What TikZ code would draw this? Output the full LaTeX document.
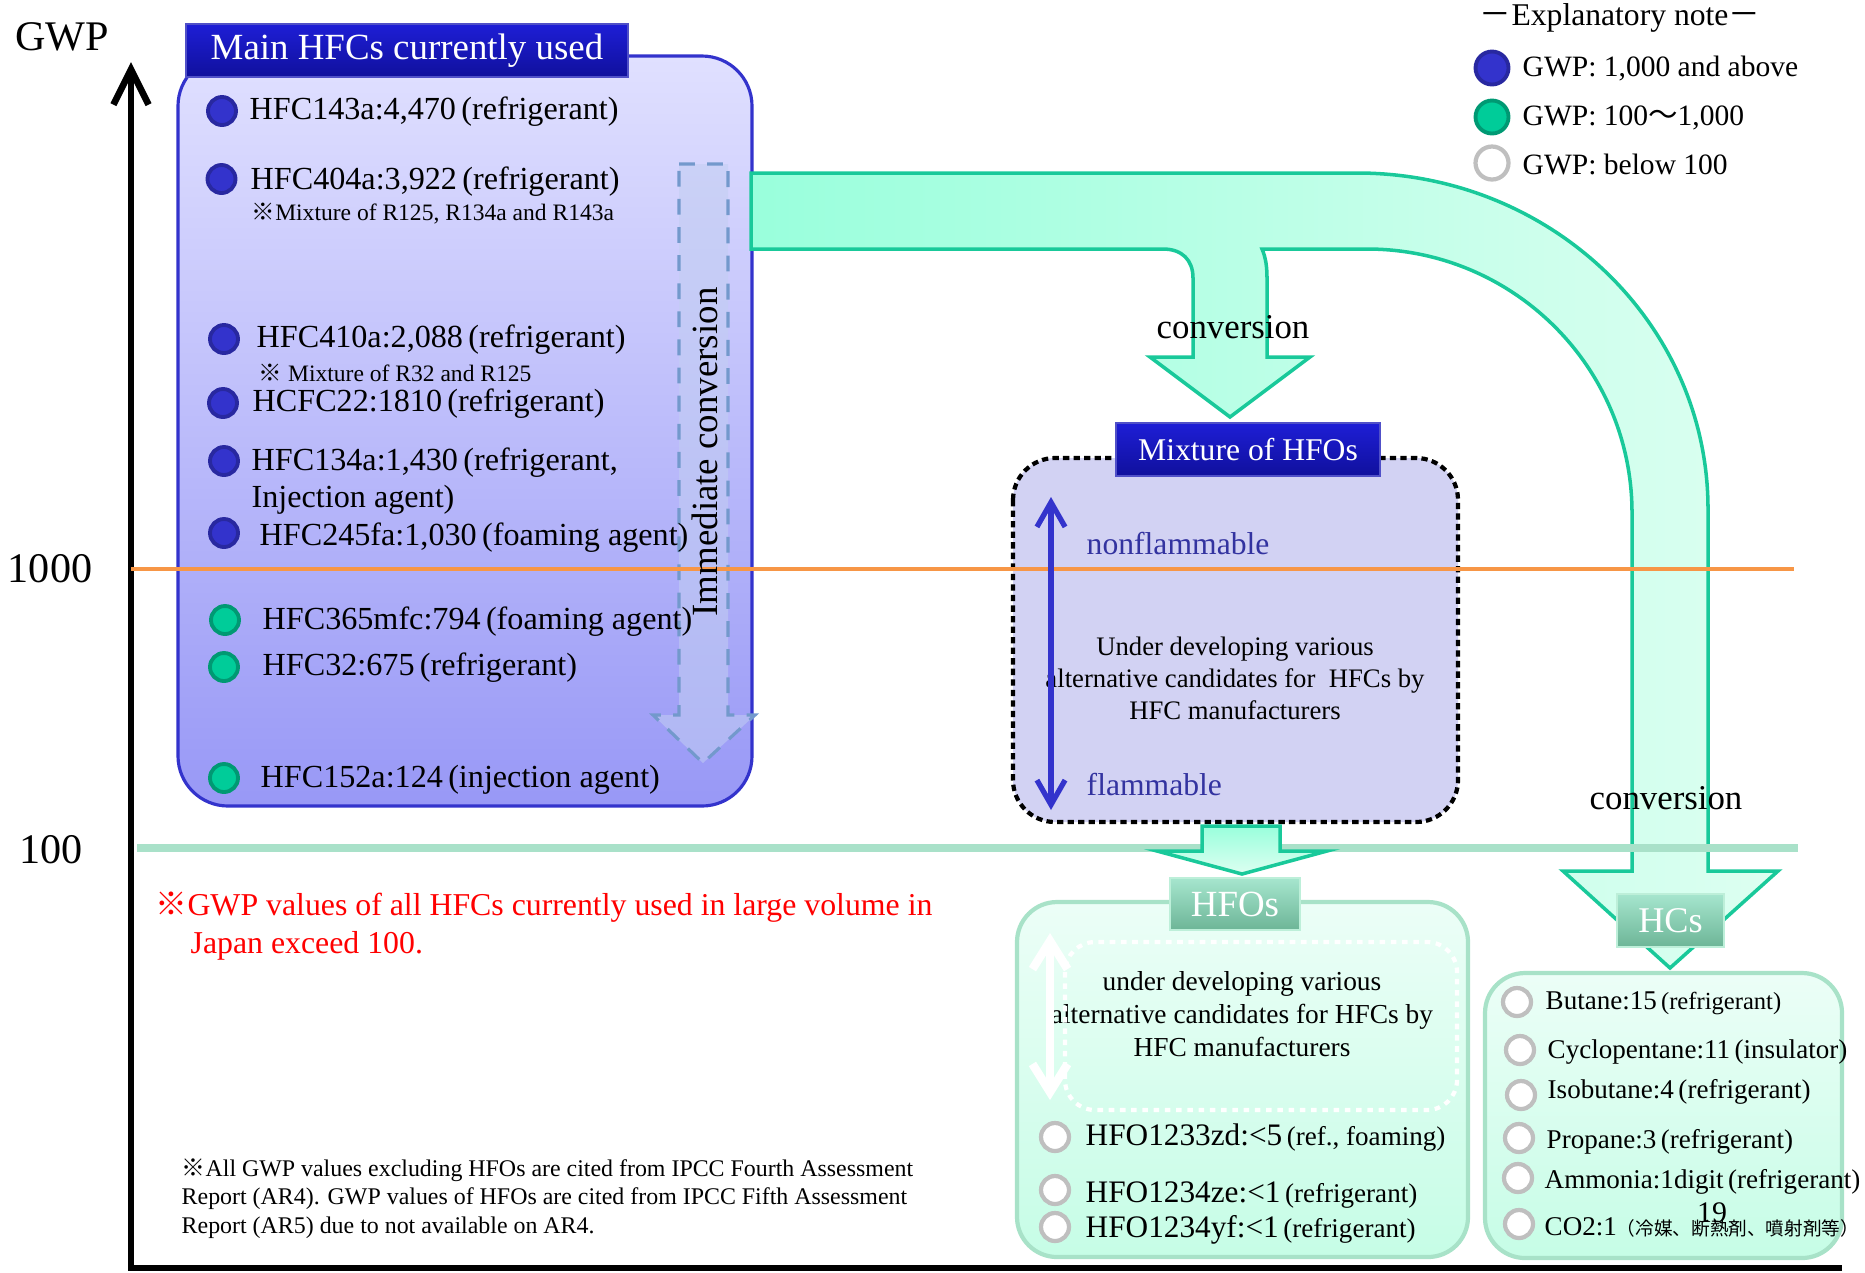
\documentclass[tikz,border=0pt]{standalone}
\usepackage{fontspec}
\setmainfont{Liberation Serif}
\newfontfamily\jpfont{Noto Sans CJK JP}
\usetikzlibrary{arrows.meta}

\definecolor{hfctop}{HTML}{E0E0FF}
\definecolor{hfcbottom}{HTML}{9898F6}
\definecolor{hfcline}{HTML}{3333CC}
\definecolor{titletop}{HTML}{1E1ED6}
\definecolor{titlebottom}{HTML}{10109C}
\definecolor{titleline}{HTML}{5050C8}
\definecolor{ballblue}{HTML}{3333CC}
\definecolor{ballblueline}{HTML}{2828A0}
\definecolor{ballgreen}{HTML}{00CC99}
\definecolor{ballgreenline}{HTML}{009973}
\definecolor{ballgrey}{HTML}{BFBFBF}
\definecolor{arrowline}{HTML}{19C99A}
\definecolor{arrowleft}{HTML}{99FFDC}
\definecolor{arrowright}{HTML}{DDFFF1}
\definecolor{dashblue}{HTML}{7399CC}
\definecolor{dashfill}{HTML}{C2CEF2}
\definecolor{mixfill}{HTML}{D2D2F3}
\definecolor{flamblue}{HTML}{3333CC}
\definecolor{flamtext}{HTML}{3333A0}
\definecolor{kline}{HTML}{F79646}
\definecolor{hline}{HTML}{A9E1C9}
\definecolor{hcline}{HTML}{A8E2C8}
\definecolor{hctop}{HTML}{ECFEF7}
\definecolor{hcbottom}{HTML}{C6FDE6}
\definecolor{gtitletop}{HTML}{A6E6CE}
\definecolor{gtitlebottom}{HTML}{6DB597}
\definecolor{gtitleline}{HTML}{BDEFD9}

\begin{document}
\begin{tikzpicture}[
    item/.style={anchor=west, inner sep=0pt, font=\fontsize{9.15}{11}\selectfont},
    smallnote/.style={anchor=west, inner sep=0pt, font=\fontsize{6.7}{8}\selectfont},
    hcitem/.style={anchor=west, inner sep=0pt, font=\fontsize{7.7}{9}\selectfont},
    blueball/.style={circle, inner sep=0pt, minimum size=0.28cm, line width=1.1pt, draw=ballblueline, fill=ballblue},
    greenball/.style={circle, inner sep=0pt, minimum size=0.28cm, line width=1.1pt, draw=ballgreenline, fill=ballgreen},
    greyball/.style={circle, inner sep=0pt, minimum size=0.28cm, line width=1.2pt, draw=ballgrey, fill=white},
    bluetitle/.style={draw=titleline, line width=0.6pt, top color=titletop, bottom color=titlebottom, text=white, inner sep=0pt},
    greentitle/.style={draw=gtitleline, line width=0.8pt, top color=gtitletop, bottom color=gtitlebottom, text=white, inner sep=0pt},
    convarrow/.style={draw=arrowline, line width=1pt, left color=arrowleft, right color=arrowright},
    hcbox/.style={draw=hcline, line width=1.2pt, rounded corners=0.4cm, top color=hctop, bottom color=hcbottom},
    convlabel/.style={inner sep=0pt, font=\fontsize{9.9}{12}\selectfont},
    flamlabel/.style={anchor=west, inner sep=0pt, text=flamtext, font=\fontsize{9}{11}\selectfont}
  ]
    \useasboundingbox (0,0) rectangle (18.65,-12.72);

    % axis
    \coordinate (origin) at (1.31,-12.68);
    \coordinate (ytip) at (1.31,-0.62);
    \coordinate (xend) at (18.42,-12.68);
    \draw[line width=1.9pt, -{Straight Barb[length=10pt,width=10pt]}] (xend) -- (origin) -- (ytip);
    \node[inner sep=0pt, font=\fontsize{12}{14}\selectfont] (gwp) at (0.62,-0.37) {GWP};
    \node[inner sep=0pt, font=\fontsize{12}{14}\selectfont] (k1000) at (0.50,-5.69) {1000};
    \node[inner sep=0pt, font=\fontsize{12}{14}\selectfont] (k100) at (0.51,-8.50) {100};

    % main HFCs box
    \draw[draw=hfcline, line width=0.9pt, rounded corners=0.5cm, top color=hfctop, bottom color=hfcbottom] (1.78,-0.56) rectangle (7.52,-8.06);

    % big conversion arrow with branch
    \draw[convarrow] (7.51,-1.73) -- (13.57,-1.73)
        arc[start angle=90, end angle=0, x radius=3.51cm, y radius=3.36cm]
        -- (17.08,-8.71) -- (17.78,-8.71) -- (16.70,-9.68) -- (15.63,-8.71) -- (16.32,-8.71) -- (16.32,-5.13)
        arc[start angle=0, end angle=90, x radius=2.65cm, y radius=2.64cm]
        -- (12.62,-2.49) .. controls (12.66,-2.58) and (12.67,-2.68) .. (12.67,-2.78)
        -- (12.67,-3.57) -- (13.10,-3.57) -- (12.30,-4.17) -- (11.50,-3.57) -- (11.93,-3.57)
        -- (11.93,-2.78) .. controls (11.93,-2.60) and (11.82,-2.49) .. (11.63,-2.49)
        -- (7.51,-2.49) -- cycle;

    % immediate conversion
    \draw[draw=dashblue, line width=0.9pt, dash pattern=on 4.5pt off 3.5pt, fill=dashfill, fill opacity=0.55]
        (6.79,-1.64) -- (7.28,-1.64) -- (7.28,-7.15) -- (7.55,-7.15) -- (7.03,-7.63) -- (6.53,-7.15) -- (6.79,-7.15) -- cycle;

    % mixture of HFOs
    \draw[fill=mixfill, line width=1.2pt, dash pattern=on 1.8pt off 1.2pt, rounded corners=0.42cm] (10.13,-4.58) rectangle (14.58,-8.22);

    % GWP levels
    \draw[kline, line width=1.4pt] (1.31,-5.69) -- (17.94,-5.69);
    \draw[hline, line width=2.2pt] (1.37,-8.48) -- (17.98,-8.48);

    % arrow to HFOs
    \draw[draw=arrowline, line width=1pt, top color=arrowleft, bottom color=arrowright]
        (12.02,-8.26) -- (12.80,-8.26) -- (12.80,-8.51) -- (13.27,-8.51) -- (12.42,-8.74) -- (11.57,-8.51) -- (12.02,-8.51) -- cycle;

    % HFOs and HCs boxes
    \draw[hcbox] (10.17,-9.02) rectangle (14.68,-12.57);
    \draw[hcbox] (14.85,-9.73) rectangle (18.42,-12.58);

    % titles
    \node[bluetitle, minimum width=4.42cm, minimum height=0.53cm, font=\fontsize{10.5}{12}\selectfont] (maintitle) at (4.07,-0.505) {Main HFCs currently used};
    \node[bluetitle, minimum width=2.64cm, minimum height=0.53cm, font=\fontsize{9}{11}\selectfont] (mixtitle) at (12.48,-4.495) {Mixture of HFOs};
    \node[greentitle, minimum width=1.30cm, minimum height=0.52cm, font=\fontsize{10.5}{12}\selectfont] (hfotitle) at (12.35,-9.04) {HFOs};
    \node[greentitle, minimum width=1.07cm, minimum height=0.53cm, font=\fontsize{10.3}{12}\selectfont] (hctitle) at (16.705,-9.205) {HCs};

    % main HFCs
    \node[blueball] (b143a) at (2.22,-1.11) {};
    \node[item] (t143a) at (2.49,-1.12) {HFC143a:4,470\,(refrigerant)};
    \node[blueball] (b404a) at (2.215,-1.79) {};
    \node[item] (t404a) at (2.50,-1.82) {HFC404a:3,922\,(refrigerant)};
    \node[smallnote] (n404a) at (2.51,-2.14) {{\jpfont ※}Mixture of R125, R134a and R143a};
    \node[blueball] (b410a) at (2.24,-3.39) {};
    \node[item] (t410a) at (2.56,-3.40) {HFC410a:2,088\,(refrigerant)};
    \node[smallnote] (n410a) at (2.58,-3.73) {{\jpfont ※} Mixture of R32 and R125};
    \node[blueball] (b22) at (2.23,-4.03) {};
    \node[item] (t22) at (2.52,-4.04) {HCFC22:1810\,(refrigerant)};
    \node[blueball] (b134a) at (2.24,-4.61) {};
    \node[item] (t134a) at (2.51,-4.63) {HFC134a:1,430\,(refrigerant,};
    \node[item] (t134b) at (2.51,-5.00) {Injection agent)};
    \node[blueball] (b245fa) at (2.24,-5.33) {};
    \node[item] (t245fa) at (2.59,-5.38) {HFC245fa:1,030\,(foaming agent)};
    \node[greenball] (b365) at (2.25,-6.20) {};
    \node[item] (t365) at (2.62,-6.22) {HFC365mfc:794\,(foaming agent)};
    \node[greenball] (b32) at (2.24,-6.67) {};
    \node[item] (t32) at (2.62,-6.68) {HFC32:675\,(refrigerant)};
    \node[greenball] (b152a) at (2.24,-7.78) {};
    \node[item] (t152a) at (2.60,-7.80) {HFC152a:124\,(injection agent)};

    \node[rotate=90, inner sep=0pt, font=\fontsize{10.5}{12}\selectfont] (immtext) at (7.05,-4.52) {Immediate conversion};
    \node[convlabel] (conv1) at (12.33,-3.27) {conversion};
    \node[convlabel] (conv2) at (16.66,-7.98) {conversion};

    % mixture content
    \node[flamlabel] (nonflam) at (10.86,-5.43) {nonflammable};
    \node[flamlabel] (flam) at (10.86,-7.84) {flammable};
    \node[align=center, inner sep=0pt, font=\fontsize{7.6}{9.1}\selectfont] (mixtext) at (12.35,-6.78) {Under developing various\\alternative candidates for~ HFCs by\\HFC manufacturers};
    \coordinate (flamtop) at (10.51,-4.97);
    \coordinate (flambot) at (10.51,-8.10);
    \draw[flamblue, line width=1.5pt, {Straight Barb[length=7pt,width=8pt]}-{Straight Barb[length=7pt,width=8pt]}] (flamtop) -- (flambot);

    % HFOs content
    \node[align=center, inner sep=0pt, font=\fontsize{7.8}{9.5}\selectfont] (hfotext) at (12.42,-10.14) {under developing various\\alternative candidates for HFCs by\\HFC manufacturers};
    \draw[white, line width=1.2pt, dash pattern=on 1.6pt off 1.6pt, rounded corners=0.3cm] (10.65,-9.42) rectangle (14.57,-11.10);
    \coordinate (hfotop) at (10.50,-9.33);
    \coordinate (hfobot) at (10.50,-11.00);
    \draw[white, line width=2.4pt, {Straight Barb[length=8pt,width=10pt]}-{Straight Barb[length=8pt,width=10pt]}] (hfotop) -- (hfobot);
    \node[greyball] (b1233zd) at (10.55,-11.37) {};
    \node[anchor=west, inner sep=0pt, font=\fontsize{8.9}{10}\selectfont] (t1233zd) at (10.85,-11.38) {HFO1233zd:<5{\fontsize{7.7}{9}\selectfont\,(ref., foaming)}};
    \node[greyball] (b1234ze) at (10.55,-11.90) {};
    \node[anchor=west, inner sep=0pt, font=\fontsize{8.9}{10}\selectfont] (t1234ze) at (10.85,-11.95) {HFO1234ze:<1{\fontsize{7.7}{9}\selectfont\,(refrigerant)}};
    \node[greyball] (b1234yf) at (10.55,-12.27) {};
    \node[anchor=west, inner sep=0pt, font=\fontsize{8.9}{10}\selectfont] (t1234yf) at (10.85,-12.30) {HFO1234yf:<1{\fontsize{7.7}{9}\selectfont\,(refrigerant)}};

    % HCs content
    \node[greyball] (bbutane) at (15.17,-10.02) {};
    \node[hcitem] (tbutane) at (15.45,-10.03) {Butane:15{\fontsize{7}{8}\selectfont\,(refrigerant)}};
    \node[greyball] (bcyclo) at (15.20,-10.50) {};
    \node[hcitem] (tcyclo) at (15.47,-10.52) {Cyclopentane:11\,(insulator)};
    \node[greyball] (biso) at (15.21,-10.95) {};
    \node[hcitem] (tiso) at (15.47,-10.92) {Isobutane:4\,(refrigerant)};
    \node[greyball] (bpropane) at (15.19,-11.38) {};
    \node[hcitem] (tpropane) at (15.46,-11.42) {Propane:3\,(refrigerant)};
    \node[greyball] (bammonia) at (15.18,-11.78) {};
    \node[hcitem] (tammonia) at (15.44,-11.82) {Ammonia:1digit\,(refrigerant)};
    \node[greyball] (bco2) at (15.19,-12.24) {};
    \node[hcitem] (tco2) at (15.44,-12.27) {CO2:1{\jpfont\fontsize{5.3}{7}\selectfont （冷媒、断熱剤、噴射剤等）}};
    \node[inner sep=0pt, font=\fontsize{8.5}{10}\selectfont] (pagenum) at (17.12,-12.13) {19};

    % explanatory note
    \node[inner sep=0pt, font=\fontsize{9}{11}\selectfont] (legtitle) at (16.20,-0.18) {{\jpfont －}Explanatory note{\jpfont －}};
    \node[blueball, minimum size=0.33cm] (lblue) at (14.92,-0.68) {};
    \node[anchor=west, inner sep=0pt, font=\fontsize{8.4}{10}\selectfont] (tblue) at (15.22,-0.69) {GWP: 1,000 and above};
    \node[greenball, minimum size=0.33cm] (lgreen) at (14.92,-1.17) {};
    \node[anchor=west, inner sep=0pt, font=\fontsize{8.4}{10}\selectfont] (tgreen) at (15.22,-1.18) {GWP: 100{\jpfont ～}1,000};
    \node[greyball, minimum size=0.33cm] (lgrey) at (14.92,-1.63) {};
    \node[anchor=west, inner sep=0pt, font=\fontsize{8.4}{10}\selectfont] (tgrey) at (15.22,-1.64) {GWP: below 100};

    % notes
    \node[anchor=west, inner sep=0pt, text=red, font=\fontsize{9.05}{11}\selectfont] (rednote1) at (1.55,-9.07) {{\jpfont ※}GWP values of all HFCs currently used in large volume in};
    \node[anchor=west, inner sep=0pt, text=red, font=\fontsize{9.05}{11}\selectfont] (rednote2) at (1.90,-9.46) {Japan exceed 100.};
    \node[anchor=west, inner sep=0pt, align=left, font=\fontsize{6.8}{8.1}\selectfont] (ipccnote) at (1.81,-11.985) {{\jpfont ※}All GWP values excluding HFOs are cited from IPCC Fourth Assessment\\Report (AR4). GWP values of HFOs are cited from IPCC Fifth Assessment\\Report (AR5) due to not available on AR4.};
\end{tikzpicture}
\end{document}
